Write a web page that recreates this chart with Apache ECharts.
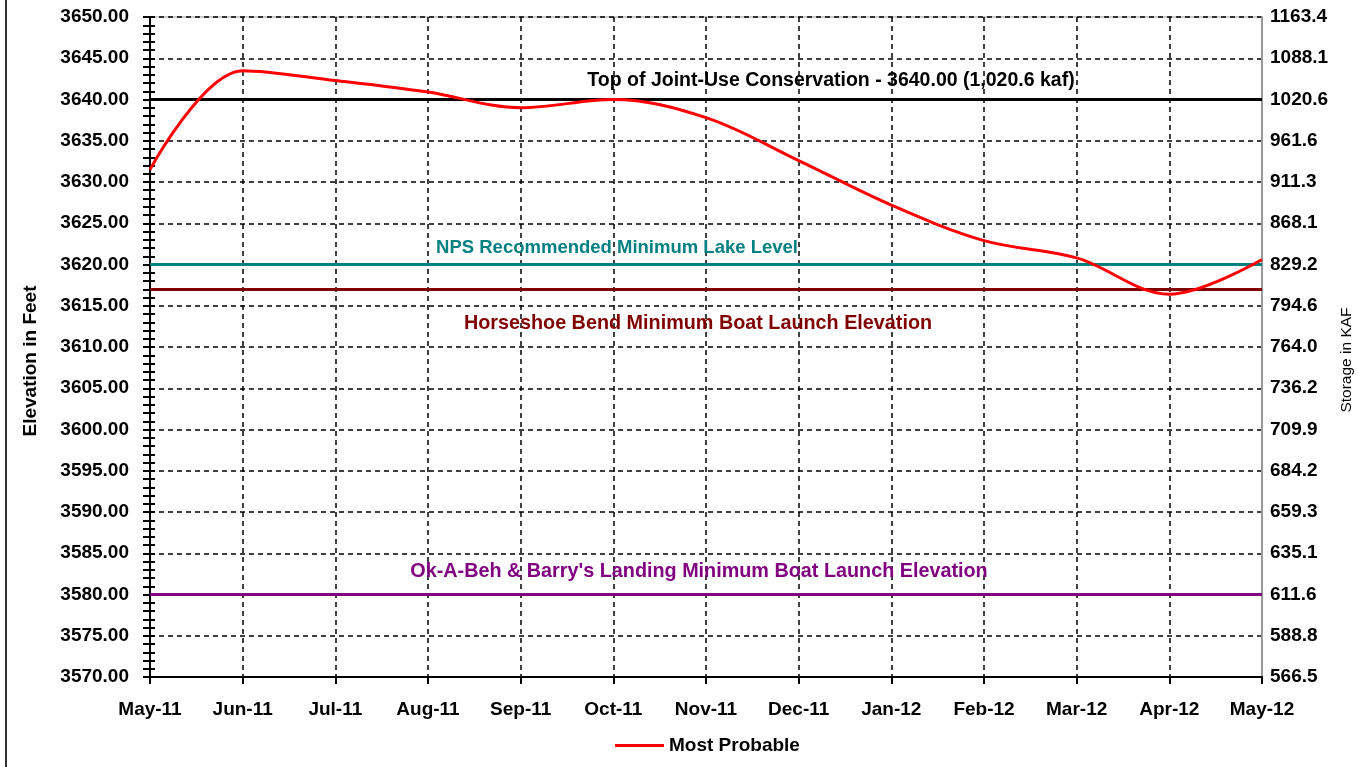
<!DOCTYPE html>
<html>
<head>
<meta charset="utf-8">
<script src="https://cdn.jsdelivr.net/npm/echarts@6/dist/echarts.min.js"></script>
<style>
  html, body { margin: 0; padding: 0; background: #fff; }
  #chart { width: 1358px; height: 767px; }
</style>
</head>
<body>
<div id="chart"></div>
<script>
// months along the bottom
var months = ["May-11", "Jun-11", "Jul-11", "Aug-11", "Sep-11", "Oct-11", "Nov-11",
  "Dec-11", "Jan-12", "Feb-12", "Mar-12", "Apr-12", "May-12"];
// most probable elevation (feet)
var mostProbable = [3631.5, 3643.5, 3642.3, 3640.9, 3639.0, 3640.0, 3637.8,
  3632.6, 3627.2, 3622.9, 3620.8, 3616.4, 3620.6];
// storage labels on the right axis, bottom (3570) to top (3650)
var storageLabels = ["566.5", "588.8", "611.6", "635.1", "659.3", "684.2", "709.9",
  "736.2", "764.0", "794.6", "829.2", "868.1", "911.3", "961.6", "1020.6", "1088.1", "1163.4"];
// reference elevations
var topJointUse = 3640;
var npsMinimum = 3620;
var horseshoeMinimum = 3617;
var okABehMinimum = 3580;

var font = "'Liberation Sans', Arial, sans-serif";
var chart = echarts.init(document.getElementById("chart"));

chart.setOption({
  backgroundColor: "#fff",
  animation: false,
  textStyle: { fontFamily: font },
  grid: {
    left: 150, right: 96, top: 17, bottom: 90,
    outerBoundsMode: "none",
    show: true, borderColor: "#a0a0a0", borderWidth: 1
  },
  legend: {
    data: [{ name: "Most Probable", icon: "rect" }],
    left: 610, top: 731,
    itemWidth: 49, itemHeight: 3, itemGap: 6,
    textStyle: { fontFamily: font, fontWeight: "bold", fontSize: 19, color: "#000" }
  },
  graphic: [{
    type: "line",
    shape: { x1: 6, y1: 0, x2: 6, y2: 767 },
    style: { stroke: "#333", lineWidth: 2 }
  }],
  xAxis: {
    type: "category",
    data: months,
    boundaryGap: false,
    axisLine: { lineStyle: { color: "#000", width: 2 } },
    axisTick: { show: true, length: 7, lineStyle: { color: "#000", width: 2 } },
    axisLabel: {
      color: "#000", fontWeight: "bold", fontSize: 19, margin: 23, fontFamily: font
    },
    splitLine: { show: true, lineStyle: { color: "#000", width: 1.5, type: [5, 4] } }
  },
  yAxis: [
    {
      type: "value",
      min: 3570, max: 3650, interval: 5,
      name: "Elevation in Feet",
      nameLocation: "middle",
      nameGap: 110,
      nameTextStyle: {
        fontWeight: "bold", fontSize: 19, color: "#000", fontFamily: font,
        padding: [0, 28, 0, 0]
      },
      axisLine: { show: true, lineStyle: { color: "#000", width: 2 } },
      axisTick: { show: true, length: 7, lineStyle: { color: "#000", width: 2 } },
      minorTick: { show: true, splitNumber: 5, length: 7, lineStyle: { color: "#000", width: 2 } },
      axisLabel: {
        color: "#000", fontWeight: "bold", fontSize: 19, margin: 21, fontFamily: font,
        formatter: function (v) { return v.toFixed(2); }
      },
      splitLine: { show: true, lineStyle: { color: "#000", width: 1.5, type: [5, 4] } }
    },
    {
      // inside ticks so the left ticks cross the axis line
      type: "value",
      min: 3570, max: 3650, interval: 5,
      position: "left",
      axisLine: { show: false },
      axisTick: { show: true, inside: true, length: 5, lineStyle: { color: "#000", width: 2 } },
      minorTick: { show: true, splitNumber: 5, length: 5, lineStyle: { color: "#000", width: 2 } },
      axisLabel: { show: false },
      splitLine: { show: false }
    },
    {
      type: "value",
      min: 3570, max: 3650, interval: 5,
      position: "right",
      name: "Storage in KAF",
      nameLocation: "middle",
      nameGap: 72,
      nameRotate: 90,
      nameTextStyle: { fontSize: 15.5, color: "#000", fontFamily: font, padding: [0, 26, 0, 0] },
      axisLine: { show: true, lineStyle: { color: "#999", width: 2 } },
      axisTick: { show: false },
      axisLabel: {
        color: "#000", fontWeight: "bold", fontSize: 19, margin: 8, fontFamily: font,
        formatter: function (v) { return storageLabels[Math.round((v - 3570) / 5)]; }
      },
      splitLine: { show: false }
    }
  ],
  series: [{
    name: "Most Probable",
    type: "line",
    data: mostProbable,
    smooth: 0.35,
    symbol: "none",
    color: "#ff0000",
    lineStyle: { color: "#ff0000", width: 3 },
    z: 5,
    markLine: {
      silent: true,
      symbol: "none",
      animation: false,
      data: [
        {
          yAxis: topJointUse,
          lineStyle: { color: "#000", width: 3, type: "solid" },
          label: {
            formatter: "Top of Joint-Use Conservation - 3640.00 (1,020.6 kaf)",
            position: "insideMiddleTop", distance: 9, offset: [125, 0],
            color: "#000", fontWeight: "bold", fontSize: 19.5, fontFamily: font
          }
        },
        {
          yAxis: npsMinimum,
          lineStyle: { color: "#008080", width: 3, type: "solid" },
          label: {
            formatter: "NPS Recommended Minimum Lake Level",
            position: "insideMiddleTop", distance: 7, offset: [-89, 0],
            color: "#008080", fontWeight: "bold", fontSize: 18.5, fontFamily: font
          }
        },
        {
          yAxis: horseshoeMinimum,
          lineStyle: { color: "#800000", width: 3, type: "solid" },
          label: {
            formatter: "Horseshoe Bend Minimum Boat Launch Elevation",
            position: "insideMiddleBottom", distance: 24, offset: [-8, 0],
            color: "#800000", fontWeight: "bold", fontSize: 19.8, fontFamily: font
          }
        },
        {
          yAxis: okABehMinimum,
          lineStyle: { color: "#800080", width: 3, type: "solid" },
          label: {
            formatter: "Ok-A-Beh & Barry's Landing Minimum Boat Launch Elevation",
            position: "insideMiddleTop", distance: 13, offset: [-7, 0],
            color: "#800080", fontWeight: "bold", fontSize: 19.8, fontFamily: font
          }
        }
      ]
    }
  }]
});
</script>
</body>
</html>
